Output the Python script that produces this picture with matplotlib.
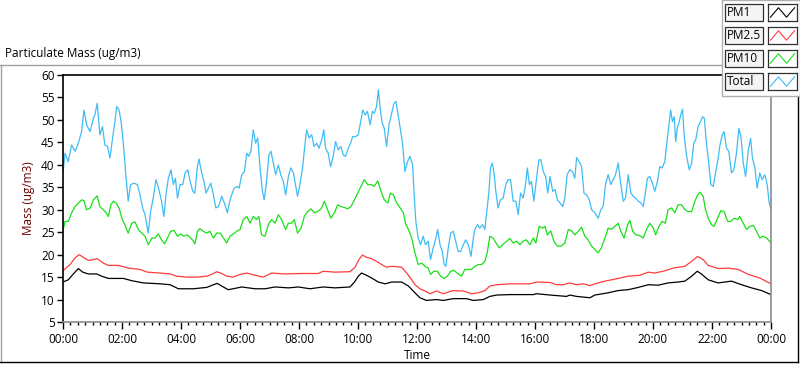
import matplotlib
matplotlib.use("Agg")
import matplotlib.pyplot as plt
from matplotlib.lines import Line2D
from matplotlib.patches import Rectangle
from matplotlib.ticker import MultipleLocator, FuncFormatter

# time in hours since midnight, values in ug/m3
total_t = [0.00, 0.07, 0.18, 0.29, 0.41, 0.52, 0.63, 0.71, 0.80, 0.92, 1.03, 1.08, 1.16, 1.25,
           1.34, 1.42, 1.51, 1.59, 1.68, 1.76, 1.82, 1.90, 1.97, 2.05, 2.12, 2.21, 2.29, 2.41,
           2.52, 2.61, 2.70, 2.78, 2.86, 2.89, 2.97, 3.06, 3.15, 3.24, 3.34, 3.42, 3.49, 3.57,
           3.66, 3.74, 3.81, 3.88, 3.97, 4.06, 4.14, 4.23, 4.31, 4.40, 4.47, 4.55, 4.61, 4.70,
           4.78, 4.85, 4.93, 5.01, 5.10, 5.18, 5.27, 5.38, 5.47, 5.57, 5.68, 5.80, 5.91, 5.97,
           6.06, 6.15, 6.23, 6.30, 6.37, 6.45, 6.53, 6.60, 6.68, 6.76, 6.82, 6.90, 6.98, 7.05,
           7.13, 7.21, 7.30, 7.38, 7.47, 7.55, 7.64, 7.72, 7.81, 7.89, 7.95, 8.03, 8.12, 8.20,
           8.26, 8.34, 8.43, 8.51, 8.60, 8.68, 8.77, 8.84, 8.90, 8.99, 9.07, 9.16, 9.24, 9.33,
           9.42, 9.50, 9.58, 9.67, 9.75, 9.82, 9.92, 10.01, 10.09, 10.16, 10.24, 10.32, 10.41,
           10.49, 10.55, 10.63, 10.69, 10.75, 10.82, 10.89, 10.97, 11.05, 11.14, 11.22, 11.29,
           11.37, 11.45, 11.51, 11.59, 11.68, 11.76, 11.85, 11.91, 11.96, 12.04, 12.12, 12.21,
           12.29, 12.38, 12.46, 12.55, 12.64, 12.70, 12.78, 12.86, 12.92, 12.98, 13.06, 13.14,
           13.23, 13.31, 13.40, 13.48, 13.57, 13.65, 13.74, 13.83, 13.91, 13.96, 14.05, 14.13,
           14.22, 14.30, 14.38, 14.44, 14.49, 14.55, 14.62, 14.67, 14.75, 14.83, 14.92, 15.01,
           15.09, 15.17, 15.26, 15.35, 15.43, 15.51, 15.60, 15.68, 15.74, 15.81, 15.88, 15.96,
           16.05, 16.13, 16.20, 16.28, 16.36, 16.43, 16.51, 16.60, 16.68, 16.76, 16.85, 16.94,
           17.01, 17.09, 17.18, 17.27, 17.35, 17.41, 17.50, 17.58, 17.66, 17.75, 17.84, 17.92,
           18.03, 18.14, 18.23, 18.31, 18.39, 18.48, 18.57, 18.65, 18.73, 18.82, 18.91, 18.99,
           19.07, 19.16, 19.25, 19.33, 19.41, 19.50, 19.59, 19.67, 19.75, 19.81, 19.89, 19.98,
           20.06, 20.15, 20.23, 20.31, 20.40, 20.46, 20.54, 20.60, 20.66, 20.72, 20.77, 20.83,
           20.89, 20.94, 21.00, 21.06, 21.14, 21.23, 21.31, 21.38, 21.45, 21.53, 21.61, 21.68,
           21.74, 21.81, 21.89, 21.96, 22.04, 22.13, 22.21, 22.27, 22.35, 22.41, 22.49, 22.57,
           22.66, 22.74, 22.83, 22.91, 22.98, 23.06, 23.14, 23.23, 23.31, 23.37, 23.45, 23.53,
           23.62, 23.70, 23.79, 23.87, 23.94, 24.00]
total_v = [38.2, 42.6, 40.7, 44.4, 43.0, 44.8, 47.4, 52.2, 48.9, 47.4, 50.4, 51.1, 53.7, 46.7,
           48.5, 44.4, 44.1, 41.5, 45.9, 49.6, 53.0, 52.2, 49.6, 44.4, 38.5, 31.9, 35.6, 35.9,
           35.6, 33.3, 30.4, 28.9, 25.9, 24.8, 29.6, 32.6, 36.7, 34.8, 31.9, 28.5, 33.3, 37.0,
           38.9, 35.6, 37.0, 32.6, 35.6, 35.6, 38.2, 38.9, 36.3, 34.1, 33.7, 39.3, 41.3, 38.2,
           36.3, 33.7, 34.8, 35.9, 33.3, 30.4, 30.7, 33.0, 31.5, 29.3, 32.6, 34.8, 35.2, 34.8,
           37.8, 38.5, 42.6, 41.9, 43.0, 47.8, 44.8, 46.0, 39.3, 34.1, 32.2, 36.3, 42.2, 43.0,
           40.4, 37.8, 40.0, 37.8, 36.3, 33.3, 37.4, 39.3, 38.2, 35.2, 33.0, 35.6, 39.3, 44.4,
           47.8, 46.0, 46.7, 44.1, 44.8, 43.7, 45.6, 47.8, 43.7, 42.6, 39.6, 41.9, 45.2, 43.3,
           44.1, 42.2, 41.9, 43.7, 44.8, 46.3, 46.3, 46.7, 49.6, 52.2, 51.1, 51.9, 48.9,
           51.9, 51.5, 53.0, 56.7, 52.6, 49.3, 48.1, 44.1, 48.9, 51.5, 53.7, 54.1,
           50.7, 47.4, 44.8, 38.5, 40.7, 41.9, 40.0, 32.6, 27.4, 23.7, 22.2, 24.1,
           22.2, 23.0, 18.9, 21.5, 23.7, 25.6, 22.2, 20.7, 17.8, 17.4, 21.5, 24.8,
           25.2, 23.0, 20.7, 20.7, 22.2, 23.3, 22.2, 19.6, 23.7, 25.6, 26.7, 25.9,
           26.7, 25.6, 30.4, 34.1, 39.3, 40.4, 37.8, 34.1, 30.4, 32.2, 32.6, 35.6,
           36.7, 36.7, 31.9, 31.9, 28.9, 33.7, 32.6, 35.6, 39.3, 35.6, 36.3, 31.9,
           36.7, 41.1, 41.1, 38.5, 37.4, 33.7, 37.4, 34.1, 34.5, 32.2, 31.5, 30.7,
           32.6, 37.8, 38.9, 38.5, 37.0, 41.6, 40.7, 39.6, 33.7, 33.3, 32.2, 30.0,
           29.3, 28.1, 30.0, 30.7, 35.6, 37.8, 35.6, 36.7, 37.8, 40.4, 35.6, 31.9,
           32.6, 37.8, 33.7, 33.0, 32.6, 31.9, 31.5, 30.7, 34.1, 37.0, 37.4, 35.9,
           34.1, 36.3, 39.6, 39.3, 40.7, 44.4, 48.9, 52.2, 49.6, 50.7, 45.2, 48.5,
           49.6, 51.1, 52.4, 46.3, 41.9, 38.9, 40.4, 44.8, 45.6, 48.5, 49.6, 50.7,
           50.4, 44.8, 40.4, 35.6, 35.2, 38.5, 41.5, 44.4, 46.7, 47.4, 43.7, 43.0,
           38.2, 38.9, 42.6, 48.1, 46.3, 40.4, 37.4, 43.3, 45.9, 41.5, 39.6, 34.8,
           38.2, 36.7, 37.8, 35.6, 31.5, 30.0]

pm10_t = [0.00, 0.07, 0.18, 0.29, 0.41, 0.52, 0.63, 0.71, 0.80, 0.92, 1.03, 1.16, 1.25, 1.37,
          1.46, 1.54, 1.62, 1.71, 1.80, 1.90, 2.01, 2.12, 2.21, 2.33, 2.44, 2.55, 2.67, 2.78,
          2.89, 3.01, 3.12, 3.23, 3.34, 3.44, 3.54, 3.65, 3.76, 3.88, 3.99, 4.10, 4.21, 4.33,
          4.42, 4.47, 4.56, 4.64, 4.76, 4.87, 4.98, 5.10, 5.21, 5.32, 5.44, 5.55, 5.66, 5.77,
          5.89, 6.00, 6.11, 6.23, 6.34, 6.45, 6.56, 6.64, 6.73, 6.85, 6.96, 7.07, 7.19, 7.30,
          7.41, 7.55, 7.64, 7.75, 7.84, 7.95, 8.07, 8.18, 8.29, 8.41, 8.52, 8.63, 8.75, 8.86,
          8.97, 9.08, 9.20, 9.31, 9.42, 9.54, 9.65, 9.76, 9.88, 9.99, 10.10, 10.21, 10.33,
          10.44, 10.55, 10.67, 10.78, 10.89, 11.01, 11.10, 11.20, 11.31, 11.42, 11.54, 11.62,
          11.71, 11.82, 11.93, 12.04, 12.16, 12.27, 12.38, 12.46, 12.57, 12.69, 12.80, 12.91,
          13.03, 13.14, 13.25, 13.36, 13.51, 13.62, 13.74, 13.85, 13.96, 14.08, 14.19, 14.30,
          14.38, 14.47, 14.58, 14.68, 14.79, 14.90, 15.04, 15.15, 15.26, 15.38, 15.49, 15.60,
          15.71, 15.83, 15.94, 16.03, 16.14, 16.26, 16.34, 16.42, 16.53, 16.64, 16.75, 16.90,
          17.01, 17.13, 17.24, 17.35, 17.47, 17.58, 17.69, 17.80, 17.92, 18.03, 18.14, 18.25,
          18.37, 18.48, 18.59, 18.71, 18.82, 18.91, 19.02, 19.14, 19.22, 19.31, 19.42, 19.53,
          19.67, 19.78, 19.89, 20.01, 20.09, 20.20, 20.31, 20.42, 20.51, 20.63, 20.74, 20.85,
          20.97, 21.08, 21.19, 21.31, 21.42, 21.51, 21.59, 21.70, 21.78, 21.87, 21.98, 22.07,
          22.19, 22.30, 22.41, 22.53, 22.64, 22.75, 22.87, 22.94, 23.06, 23.17, 23.28, 23.40,
          23.51, 23.62, 23.73, 23.85, 24.00]
pm10_v = [25.4, 27.4, 27.4, 29.3, 30.7, 31.5, 32.2, 32.0, 30.0, 30.4, 32.2, 33.1, 30.7, 30.0,
          29.3, 28.5, 31.1, 31.9, 31.5, 30.4, 27.8, 26.3, 24.8, 27.0, 27.3, 25.6, 24.8, 24.1,
          22.2, 23.7, 23.7, 24.6, 23.3, 22.4, 23.7, 25.2, 25.4, 24.1, 24.6, 24.1, 24.4, 23.7,
          23.0, 22.4, 25.2, 25.8, 25.2, 24.8, 25.2, 23.7, 24.8, 24.8, 23.7, 22.6, 24.1, 24.6,
          25.2, 25.6, 27.8, 28.5, 27.0, 28.5, 27.8, 28.5, 24.4, 24.1, 26.7, 27.8, 27.0, 28.9,
          27.8, 25.6, 27.0, 27.0, 27.8, 24.8, 25.9, 28.5, 29.6, 30.2, 29.3, 29.6, 30.2, 31.9,
          30.0, 28.1, 29.3, 31.1, 30.7, 30.5, 30.2, 30.7, 32.2, 33.7, 35.2, 36.7, 35.6,
          35.6, 35.2, 36.4, 34.1, 32.2, 31.5, 33.7, 33.3, 31.5, 30.5, 29.3, 26.7,
          25.6, 23.7, 20.4, 17.8, 18.1, 17.4, 17.0, 15.6, 16.3, 16.3, 15.2, 14.7,
          15.2, 16.3, 16.5, 15.9, 15.2, 16.7, 16.7, 16.7, 17.4, 17.8, 17.8, 18.5,
          20.4, 24.1, 23.7, 22.6, 21.5, 22.2, 23.0, 23.6, 22.6, 23.0, 22.2, 23.0,
          23.3, 22.2, 23.7, 22.6, 26.3, 25.9, 26.3, 24.4, 25.3, 23.0, 21.9, 21.9,
          22.6, 25.6, 25.3, 24.4, 25.2, 26.1, 24.1, 23.3, 21.9, 21.1, 20.4, 21.5,
          23.7, 25.9, 25.6, 26.3, 27.0, 25.2, 23.7, 26.7, 27.6, 25.2, 24.4, 24.3,
          23.7, 25.6, 27.0, 25.9, 24.4, 26.3, 27.4, 27.0, 30.0, 30.4, 29.3, 31.1,
          31.1, 30.0, 29.6, 29.6, 31.9, 33.3, 33.9, 33.0, 30.0, 28.1, 26.7, 26.3,
          28.1, 29.8, 29.6, 27.4, 27.4, 28.1, 27.8, 28.5, 27.0, 25.6, 26.3, 26.5,
          25.2, 23.7, 24.1, 23.7, 22.6]

pm25_t = [0.00, 0.24, 0.41, 0.55, 0.69, 0.86, 1.03, 1.16, 1.37, 1.54, 1.88, 2.21, 2.61, 2.86,
          3.29, 3.63, 3.85, 4.19, 4.53, 4.87, 5.04, 5.21, 5.38, 5.55, 5.77, 6.00, 6.23, 6.51,
          6.79, 7.07, 7.52, 8.09, 8.65, 8.82, 9.22, 9.73, 9.90, 10.03, 10.15, 10.29, 10.46,
          10.63, 10.80, 10.97, 11.14, 11.48, 11.65, 11.82, 11.93, 12.10, 12.27, 12.44, 12.66,
          12.89, 13.23, 13.57, 13.85, 14.08, 14.30, 14.47, 14.70, 15.15, 15.83, 16.05, 16.51,
          16.73, 16.96, 17.18, 17.41, 17.64, 17.86, 18.03, 18.37, 18.82, 19.16, 19.55, 19.84,
          20.06, 20.40, 20.68, 21.08, 21.31, 21.51, 21.70, 21.87, 22.21, 22.55, 22.89, 23.23,
          23.62, 24.00]
pm25_v = [16.4, 17.8, 19.3, 20.0, 19.4, 18.7, 18.9, 19.1, 18.1, 17.6, 17.6, 17.0, 16.7, 16.1,
          15.9, 15.7, 15.2, 15.0, 15.0, 15.2, 15.6, 16.2, 15.8, 15.2, 15.0, 15.6, 15.9, 15.4,
          15.0, 15.9, 15.7, 15.8, 15.8, 16.3, 16.1, 16.2, 17.2, 18.9, 19.9, 19.4, 19.1,
          18.5, 17.8, 17.2, 17.4, 17.2, 15.9, 14.4, 13.3, 12.4, 11.9, 11.3, 11.9,
          11.3, 12.0, 11.9, 11.3, 11.5, 12.0, 13.0, 13.3, 13.5, 13.5, 13.9, 13.8,
          13.3, 13.3, 13.7, 13.3, 13.5, 13.1, 13.5, 14.1, 14.7, 15.2, 15.4, 16.1,
          15.9, 16.4, 17.0, 17.4, 18.5, 19.6, 18.9, 17.6, 16.9, 17.0, 16.7, 15.6,
          14.8, 13.5]

pm1_t = [0.00, 0.18, 0.35, 0.52, 0.67, 0.86, 1.14, 1.31, 1.54, 2.05, 2.33, 2.72, 3.29, 3.63,
         3.91, 4.42, 4.87, 5.10, 5.23, 5.38, 5.60, 5.77, 6.06, 6.51, 6.85, 7.19, 7.64, 7.98,
         8.37, 8.82, 9.22, 9.73, 9.88, 10.01, 10.12, 10.29, 10.46, 10.69, 10.92, 11.14, 11.48,
         11.71, 11.93, 12.10, 12.32, 12.66, 12.89, 13.23, 13.68, 13.91, 14.25, 14.47, 14.70,
         15.15, 15.94, 16.05, 16.51, 17.07, 17.18, 17.41, 17.86, 18.03, 18.48, 18.82, 19.16,
         19.50, 19.84, 20.18, 20.51, 20.85, 21.08, 21.31, 21.50, 21.64, 21.87, 22.21, 22.66,
         23.00, 23.34, 23.68, 24.00]
pm1_v = [13.9, 14.4, 15.7, 16.9, 16.1, 15.7, 15.7, 15.2, 14.7, 14.7, 14.2, 13.7, 13.5, 13.3,
         12.4, 12.4, 12.7, 13.3, 13.6, 13.0, 12.2, 12.4, 12.8, 12.4, 12.4, 12.8, 12.6, 12.8,
         12.4, 12.8, 12.6, 12.8, 13.9, 15.2, 15.9, 15.4, 14.8, 13.9, 13.5, 13.9, 13.9,
         13.0, 11.5, 10.4, 9.8, 10.0, 9.8, 10.2, 10.2, 9.8, 10.0, 10.7, 11.0,
         11.1, 11.1, 11.3, 11.0, 10.7, 11.0, 10.7, 10.4, 11.0, 11.5, 12.0, 12.2,
         12.7, 13.3, 13.2, 13.7, 13.9, 14.1, 15.2, 16.3, 15.7, 14.4, 13.7, 14.1,
         13.3, 12.6, 12.0, 11.1]

series_names = ["PM1", "PM2.5", "PM10", "Total"]
series_colors = ["#000000", "#ff3c3c", "#18e018", "#40bcf4"]

W, H = 800, 365


def fx(x):
    return x / W


def fy(y):
    return 1 - y / H


plt.rcParams['font.family'] = ['Open Sans', 'DejaVu Sans']

fig = plt.figure(figsize=(8, 3.65), dpi=100)
fig.patch.set_facecolor("white")

# plot area: x 63..771, y 75..322 (pixels)
ax = fig.add_axes([fx(63), fy(322), fx(771 - 63), (322 - 75) / H])

ax.plot(total_t, total_v, color=series_colors[3], lw=0.9)
ax.plot(pm10_t, pm10_v, color=series_colors[2], lw=0.9)
ax.plot(pm25_t, pm25_v, color=series_colors[1], lw=0.9)
ax.plot(pm1_t, pm1_v, color=series_colors[0], lw=0.9)

ax.set_xlim(0, 24)
ax.set_ylim(5, 60)
ax.yaxis.set_major_locator(MultipleLocator(5))
ax.xaxis.set_major_locator(MultipleLocator(2))
ax.xaxis.set_minor_locator(MultipleLocator(0.25))
ax.xaxis.set_major_formatter(FuncFormatter(lambda v, p: "%02d:00" % (int(round(v)) % 24)))
ax.tick_params(axis='y', direction='out', length=4, width=1, pad=2, labelsize=8.5, colors='black')
ax.tick_params(axis='x', which='major', direction='out', length=5, width=1, pad=3, labelsize=8.5)
ax.tick_params(axis='x', which='minor', direction='out', length=2.5, width=1)

ax.spines['left'].set_color('black')
ax.spines['top'].set_color('black')
ax.spines['right'].set_color('#8c8c8c')
ax.spines['bottom'].set_color('#8c8c8c')
for s in ax.spines.values():
    s.set_linewidth(1.2)

ax.set_ylabel("Mass (ug/m3)", color='#6a0000', fontsize=8.5, labelpad=4)
ax.set_xlabel("Time", fontsize=8.5, labelpad=2)

# panel title and frame
fig.text(fx(5), fy(53), "Particulate Mass (ug/m3)", fontsize=8.5, va='center', ha='left')
fig.add_artist(Line2D([fx(0), fx(722)], [fy(65), fy(65)], color='#a0a0a0', lw=1))
fig.add_artist(Line2D([fx(1), fx(1)], [fy(65), fy(362)], color='#a0a0a0', lw=1))
fig.add_artist(Line2D([fx(0), fx(798)], [fy(362), fy(362)], color='black', lw=1))
fig.add_artist(Line2D([fx(797.5), fx(797.5)], [fy(96), fy(362)], color='black', lw=1))

# legend panel
legend_bg = Rectangle((fx(722), fy(96)), fx(78), 96 / H, facecolor='white',
                      edgecolor='#b0b0b0', lw=1, transform=fig.transFigure, zorder=2)
fig.add_artist(legend_bg)
row_tops = [4, 27, 50, 73]
for name, col, top in zip(series_names, series_colors, row_tops):
    hgt = 17
    box = Rectangle((fx(725), fy(top + hgt)), fx(38), hgt / H, facecolor='#f4f4f4',
                    edgecolor='#303030', lw=0.9, transform=fig.transFigure, zorder=3)
    fig.add_artist(box)
    fig.text(fx(727), fy(top + hgt / 2), name, fontsize=8.5, va='center', ha='left', zorder=4)
    gax = fig.add_axes([fx(768), fy(top + hgt), fx(29), hgt / H])
    gax.set_zorder(5)
    gax.plot([0, 1, 2, 3], [0, 1, 0, 1], color=col, lw=0.8)
    gax.set_xlim(-0.3, 3.3)
    gax.set_ylim(-0.4, 1.4)
    gax.set_xticks([])
    gax.set_yticks([])
    for s in gax.spines.values():
        s.set_color('#303030')
        s.set_linewidth(0.9)

fig.savefig("out.png", dpi=100, facecolor='white')
